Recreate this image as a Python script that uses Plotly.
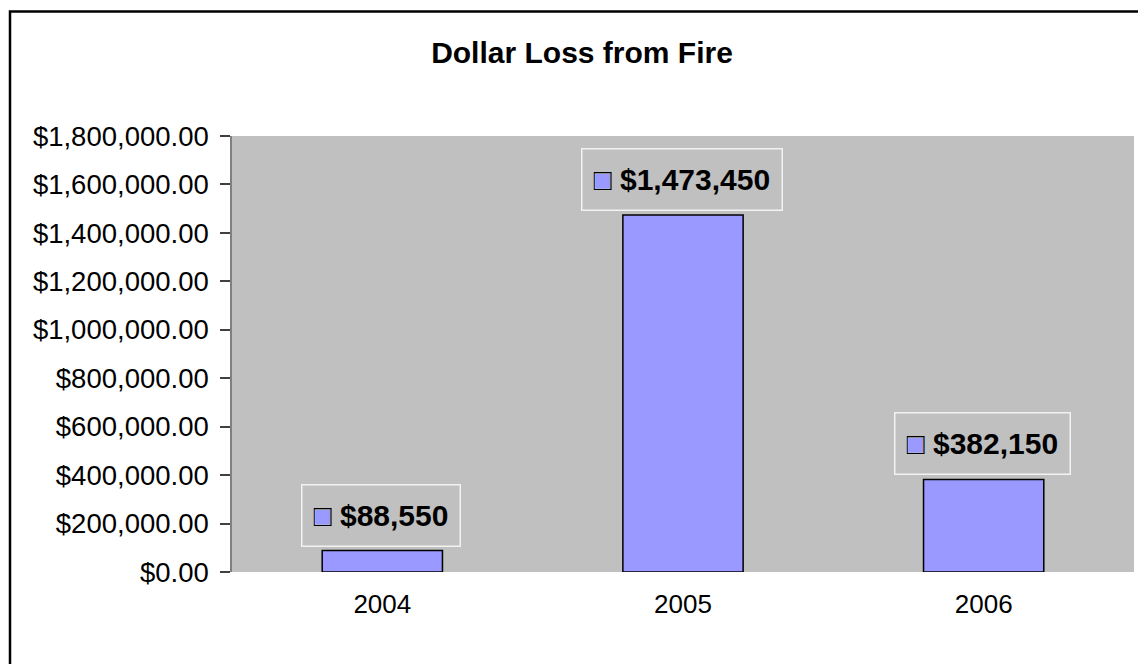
import plotly.graph_objects as go

years = ["2004", "2005", "2006"]
losses = [88550, 1473450, 382150]
labels = ["$88,550", "$1,473,450", "$382,150"]
y_tickvals = [0, 200000, 400000, 600000, 800000, 1000000, 1200000, 1400000, 1600000, 1800000]

BAR = "#9999FF"
FONT = "Liberation Sans, Arial, sans-serif"

fig = go.Figure()
fig.add_trace(go.Bar(
    x=years, y=losses, width=0.4,
    marker=dict(color=BAR, line=dict(color="black", width=1.5)),
    hoverinfo="skip",
))

annotations = []
for i, (val, lab) in enumerate(zip(losses, labels)):
    common = dict(
        x=i, y=val, xref="x", yref="y", xanchor="center", yanchor="bottom",
        yshift=4, xshift=-1, showarrow=False, borderpad=11, height=38,
        font=dict(family=FONT, size=30, color="black"), borderwidth=1.5,
    )
    annotations.append(dict(
        text=f"<span style='color:{BAR}'>■</span> <b>{lab}</b>",
        bordercolor="#F2F2F2", **common))
    annotations.append(dict(
        text=f"<span style='color:black'>□</span> <span style='color:rgba(0,0,0,0)'><b>{lab}</b></span>",
        bordercolor="rgba(0,0,0,0)", **common))

fig.update_layout(
    width=1138, height=664,
    margin=dict(l=232, r=4, t=136, b=92),
    paper_bgcolor="white", plot_bgcolor="#C0C0C0",
    showlegend=False, bargap=0.6,
    font=dict(family=FONT, color="black"),
    title=dict(text="<b>Dollar Loss from Fire</b>", x=582 / 1138, xref="container", xanchor="center",
               y=1 - 52 / 664, yref="container", yanchor="middle",
               font=dict(family=FONT, size=30, color="black")),
    xaxis=dict(type="category", range=[-0.5, len(years) - 0.5], showgrid=False, showline=False,
               ticks="", tickfont=dict(family=FONT, size=26, color="black"), ticklabelstandoff=14),
    yaxis=dict(range=[0, 1800000], tickvals=y_tickvals, tickformat="$,.2f", showgrid=False,
               zeroline=False, showline=True, linecolor="#808080", linewidth=1.5,
               ticks="outside", ticklen=10, tickcolor="#404040", tickwidth=1.5,
               tickfont=dict(family=FONT, size=27.5, color="black"), ticklabelstandoff=6),
    annotations=annotations,
    shapes=[dict(type="rect", xref="paper", yref="paper",
                 x0=(10 - 232) / 902, x1=(1150 - 232) / 902,
                 y0=-(680 - 572) / 436, y1=1 + (136 - 11.5) / 436,
                 line=dict(color="black", width=2.5), layer="above")],
)

fig.write_html("out.html")
